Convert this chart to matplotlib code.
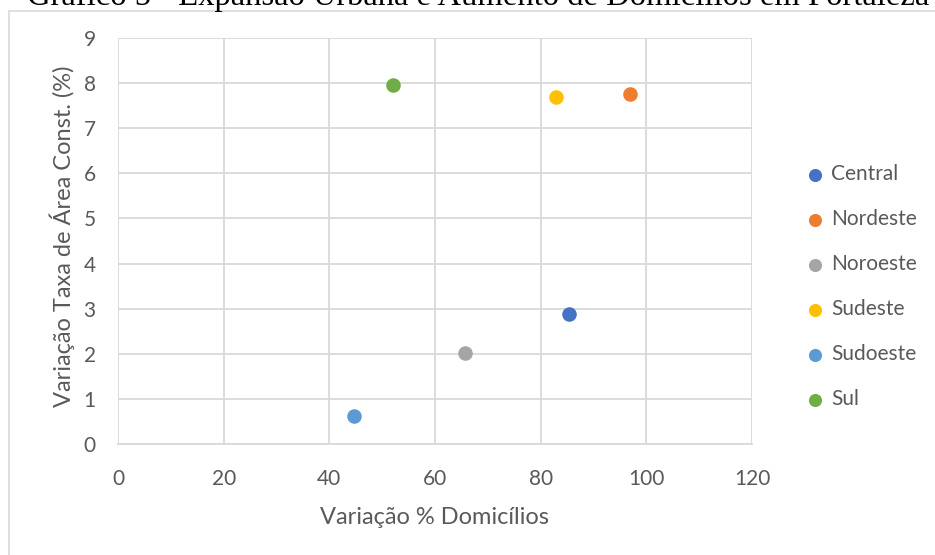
import matplotlib.pyplot as plt
from matplotlib.patches import Rectangle

regioes = ['Central', 'Nordeste', 'Noroeste', 'Sudeste', 'Sudoeste', 'Sul']
var_domicilios = [85.3, 96.9, 65.6, 82.9, 44.7, 52.0]
var_area = [2.89, 7.75, 2.02, 7.70, 0.62, 7.96]
cores = ['#4472C4', '#ED7D31', '#A5A5A5', '#FFC000', '#5B9BD5', '#70AD47']

texto = '#595959'
grade = '#D9D9D9'

fig = plt.figure(figsize=(9.35, 5.55), dpi=100)
plt.rcParams['font.family'] = ['Lato', 'DejaVu Sans']

# moldura do gráfico
fig.patches.append(Rectangle((9 / 935, -0.1), 1.0, 1.1 - 11 / 555,
                             transform=fig.transFigure, fill=False,
                             edgecolor=grade, linewidth=1.2))

fig.text(478 / 935, 1 - 5 / 555, 'Gráfico 5 - Expansão Urbana e Aumento de Domicílios em Fortaleza',
         family='Liberation Serif', fontsize=23.5, ha='center', va='baseline', color='black')

ax = fig.add_axes([118 / 935, 1 - 444 / 555, (752 - 118) / 935, (444 - 38) / 555])

for nome, x, y, c in zip(regioes, var_domicilios, var_area, cores):
    ax.scatter(x, y, s=110, color=c, label=nome, zorder=3, linewidths=0)

ax.set_xlim(0, 120)
ax.set_ylim(0, 9)
ax.set_xticks(range(0, 121, 20))
ax.set_yticks(range(0, 10))
ax.grid(True, color=grade, linewidth=1.3)
ax.set_axisbelow(True)
for lado in ['top', 'right', 'left']:
    ax.spines[lado].set_visible(False)
ax.spines['bottom'].set_color(grade)
ax.spines['bottom'].set_linewidth(1.3)
ax.tick_params(length=0, labelsize=15, colors=texto)
ax.tick_params(axis='x', pad=18)
ax.tick_params(axis='y', pad=16)

ax.set_xlabel('Variação % Domicílios', fontsize=17, color=texto, va='center')
ax.xaxis.set_label_coords(0.5, (444 - 517) / 406)
ax.set_ylabel('Variação Taxa de Área Const. (%)', fontsize=17, color=texto, va='center')
ax.yaxis.set_label_coords((62 - 118) / 634, (444 - 236) / 406)

ax.legend(loc='upper left', bbox_to_anchor=(805 / 935, 1 - 164 / 555),
          bbox_transform=fig.transFigure, frameon=False,
          fontsize=15, labelcolor=texto, handlelength=1.0, handletextpad=0.25,
          labelspacing=1.2, markerscale=0.9, borderaxespad=0, borderpad=0)

fig.savefig('out.png', dpi=100)
